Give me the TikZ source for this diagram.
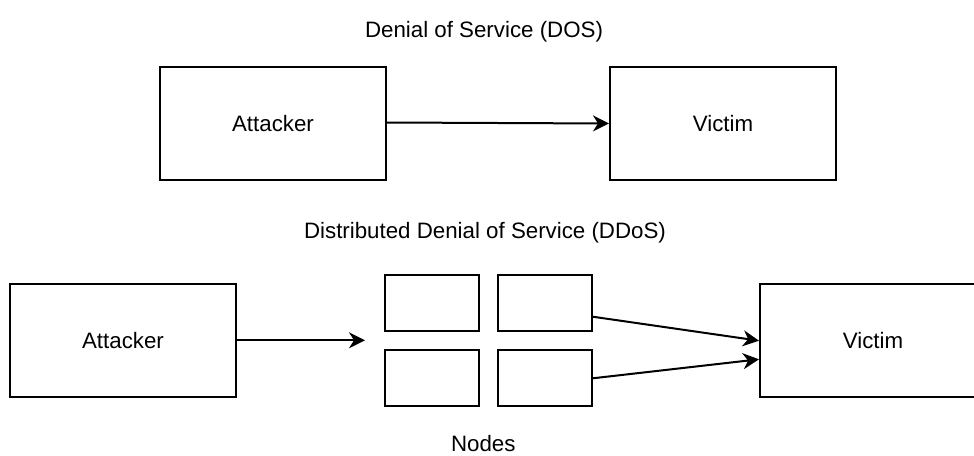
\documentclass[tikz,border=0pt]{standalone}
\usepackage{fontspec}
\setmainfont{Liberation Sans}
\usetikzlibrary{arrows.meta,calc}

\tikzset{
  lbl/.style={font=\fontsize{22.3pt}{26pt}\selectfont, inner sep=0pt},
  bigbox/.style={draw=black, line width=2pt, fill=white,
    minimum width=226pt, minimum height=113pt, inner sep=0pt,
    font=\fontsize{22.3pt}{26pt}\selectfont},
  nodebox/.style={draw=black, line width=2pt, fill=white,
    minimum width=94pt, minimum height=56pt, inner sep=0pt},
  link/.style={draw=black, line width=2pt,
    -{Stealth[length=16pt, width=16pt, inset=5pt]}}
}

\begin{document}
\begin{tikzpicture}[x=1pt, y=-1pt]
  \useasboundingbox (0,0) rectangle (974,455);
  \clip (0,0) rectangle (974,455);

  % Denial of Service
  \node[lbl] (t1) at (484,32) {Denial of Service (DOS)};
  \node[bigbox] (a1) at (273,123.5) {Attacker};
  \node[bigbox] (v1) at (723,123.5) {Victim};
  \draw[link] ([yshift=1pt]a1.east) -- (v1.west);

  % Distributed Denial of Service
  \node[lbl] (t2) at (485,232.5) {Distributed Denial of Service (DDoS)};
  \node[bigbox] (a2) at (123,340.3) {Attacker};
  \node[bigbox] (v2) at (873,340.3) {Victim};

  \node[nodebox] (n1) at (432,303) {};
  \node[nodebox] (n2) at (544.7,303) {};
  \node[nodebox] (n3) at (432,378.3) {};
  \node[nodebox] (n4) at (544.7,378.3) {};

  \coordinate (into) at (365,340.3);
  \draw[link] (a2.east) -- (into);
  \draw[link] ([yshift=-13.7pt]n2.east) -- ([yshift=-0.4pt]v2.west);
  \draw[link] (n4.east) -- ([yshift=-19pt]v2.west);

  \node[lbl] (t3) at (483.3,444) {Nodes};
\end{tikzpicture}
\end{document}
